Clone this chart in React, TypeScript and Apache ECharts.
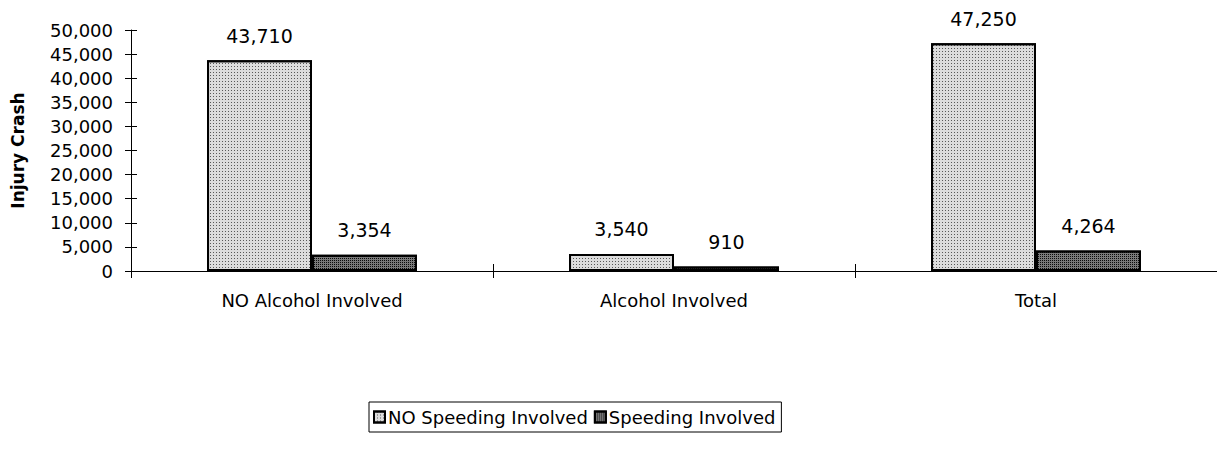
import React, { useEffect, useRef } from "react";
import * as echarts from "echarts";

const categories = ["NO Alcohol Involved", "Alcohol Involved", "Total"];
const noSpeeding = [43710, 3540, 47250];
const speeding = [3354, 910, 4264];
const seriesNames = ["NO Speeding Involved", "Speeding Involved"];
const yTicks = { min: 0, max: 50000, interval: 5000 };

const FONT = "'DejaVu Sans', 'Liberation Sans', Arial, sans-serif";
const fmt = (v: number) => v.toLocaleString("en-US");

export default function App() {
  const ref = useRef<HTMLDivElement>(null);
  useEffect(() => {
    if (!ref.current) return;
    const chart = echarts.init(ref.current, null, { renderer: "svg" });
    const labelStyle = {
      show: true,
      position: "top" as const,
      distance: 15,
      fontFamily: FONT,
      fontSize: 19,
      color: "#000",
      formatter: (p: any) => fmt(p.value),
    };
    chart.setOption({
      animation: false,
      backgroundColor: "#fff",
      aria: { enabled: true, decal: { show: true } },
      grid: { left: 131, right: 0, top: 30, bottom: 194, containLabel: false },
      legend: {
        left: 369,
        top: 402,
        data: seriesNames,
        icon: "rect",
        itemWidth: 11,
        itemHeight: 11,
        itemGap: 6,
        padding: [6, 6, 6, 4],
        borderColor: "#000",
        borderWidth: 1,
        textStyle: { fontFamily: FONT, fontSize: 18, color: "#000", padding: [0, 0, 0, -2] },
      },
      xAxis: [
        {
          type: "category",
          data: categories,
          boundaryGap: true,
          axisLine: { lineStyle: { color: "#000", width: 1 } },
          axisTick: { show: true, interval: 0, length: 7, lineStyle: { color: "#000" } },
          axisLabel: { fontFamily: FONT, fontSize: 18, color: "#000", margin: 20 },
        },
        {
          type: "category",
          data: categories,
          position: "bottom",
          boundaryGap: true,
          axisLine: { show: false },
          axisTick: { show: true, inside: true, interval: 0, length: 7, lineStyle: { color: "#000" } },
          axisLabel: { show: false },
        },
      ],
      yAxis: [
        {
          type: "value",
          min: yTicks.min,
          max: yTicks.max,
          interval: yTicks.interval,
          name: "Injury Crash",
          nameLocation: "middle",
          nameGap: 105,
          nameTextStyle: { fontFamily: FONT, fontSize: 17, fontWeight: "bold", color: "#000" },
          axisLine: { show: true, lineStyle: { color: "#000", width: 1 } },
          axisTick: { show: true, length: 6, lineStyle: { color: "#000" } },
          splitLine: { show: false },
          axisLabel: {
            fontFamily: FONT,
            fontSize: 18,
            color: "#000",
            margin: 18,
            formatter: (v: number) => fmt(v),
          },
        },
        {
          type: "value",
          min: yTicks.min,
          max: yTicks.max,
          interval: yTicks.interval,
          position: "left",
          axisLine: { show: false },
          axisTick: { show: true, inside: true, length: 6, lineStyle: { color: "#000" } },
          splitLine: { show: false },
          axisLabel: { show: false },
        },
      ],
      series: [
        {
          name: seriesNames[0],
          type: "bar",
          data: noSpeeding,
          barGap: "0%",
          barCategoryGap: "42%",
          itemStyle: {
            color: "#dcdcdc",
            borderColor: "#000",
            borderWidth: 2,
            decal: {
              symbol: "rect",
              symbolSize: 1,
              color: "rgba(0,0,0,0.6)",
              dashArrayX: [1, 2],
              dashArrayY: [1, 2],
              rotation: 0,
            },
          },
          label: labelStyle,
        },
        {
          name: seriesNames[1],
          type: "bar",
          data: speeding,
          barGap: "0%",
          barCategoryGap: "42%",
          itemStyle: {
            color: "#7a7a7a",
            borderColor: "#000",
            borderWidth: 2,
            decal: {
              symbol: "rect",
              symbolSize: 1,
              color: "rgba(0,0,0,0.9)",
              dashArrayX: [1, 1],
              dashArrayY: [1, 1],
              rotation: 0,
            },
          },
          label: labelStyle,
        },
      ],
    });
    return () => chart.dispose();
  }, []);
  return (
    <div
      ref={ref}
      style={{ position: "absolute", left: 0, top: 0, width: 1217, height: 465, background: "#fff" }}
    />
  );
}
